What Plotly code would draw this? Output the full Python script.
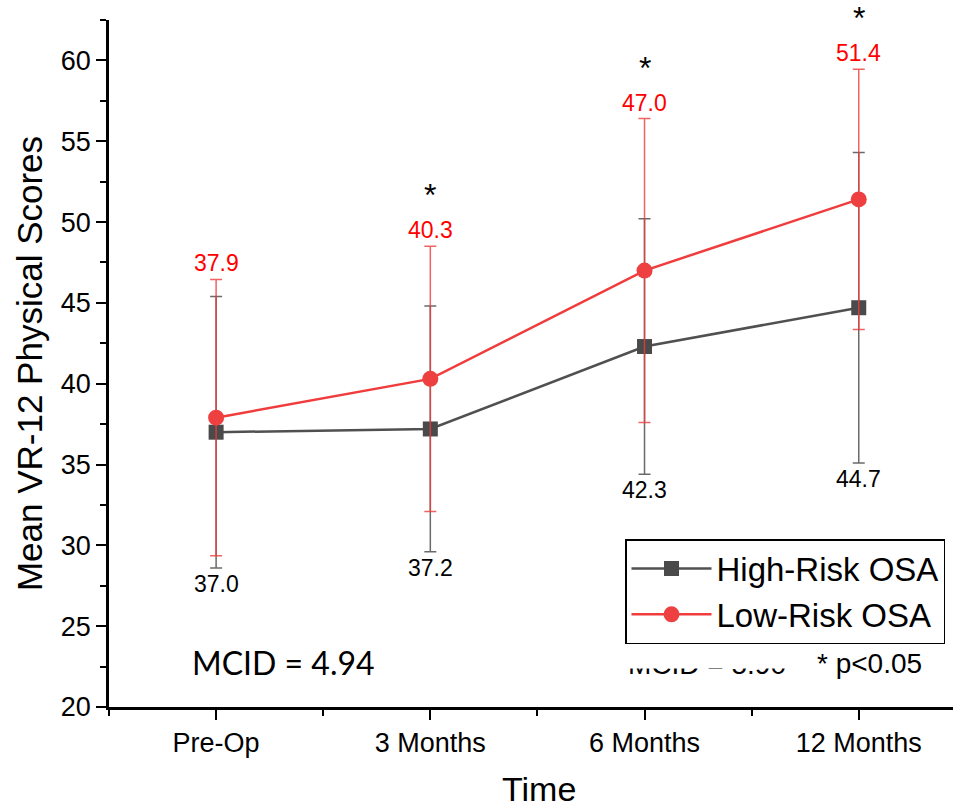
import plotly.graph_objects as go

categories = ["Pre-Op", "3 Months", "6 Months", "12 Months"]
high_mean = [37.0, 37.2, 42.3, 44.7]
high_sd = [8.4, 7.6, 7.9, 9.6]
low_mean = [37.9, 40.3, 47.0, 51.4]
low_sd = [8.55, 8.2, 9.4, 8.05]
significant = [False, True, True, True]
mcid_text = "MCID = 4.94"
mcid_hidden_text = "MCID = 5.90"
p_text = "* p<0.05"

x = list(range(len(categories)))

GRAY = "#505050"
RED = "#f03c3c"
ARIAL = "Liberation Sans, Arial, sans-serif"
NARROW = "Liberation Sans Narrow, Arial Narrow, Liberation Sans, sans-serif"

fig = go.Figure()
fig.add_trace(go.Scatter(
    x=x, y=high_mean, mode="lines+markers", name="High-Risk OSA",
    line=dict(color=GRAY, width=2.5),
    marker=dict(symbol="square", size=15, color="#4a4a4a"),
    error_y=dict(type="data", array=high_sd, visible=True,
                 color="rgba(80,80,80,0.85)", thickness=1.5, width=6),
))
fig.add_trace(go.Scatter(
    x=x, y=low_mean, mode="lines+markers", name="Low-Risk OSA",
    line=dict(color=RED, width=2.5),
    marker=dict(symbol="circle", size=16, color="#ee4040"),
    error_y=dict(type="data", array=low_sd, visible=True,
                 color="rgba(235,60,60,0.8)", thickness=1.5, width=6),
))

annotations = []
for i in x:
    annotations.append(dict(
        x=i, y=low_mean[i] + low_sd[i], xref="x", yref="y",
        text=f"{low_mean[i]:.1f}", showarrow=False, yanchor="bottom",
        yshift=1, font=dict(family=ARIAL, size=23, color="#ff0000")))
    annotations.append(dict(
        x=i, y=high_mean[i] - high_sd[i], xref="x", yref="y",
        text=f"{high_mean[i]:.1f}", showarrow=False, yanchor="top",
        yshift=-1, font=dict(family=ARIAL, size=23, color="#000000")))
    if significant[i]:
        annotations.append(dict(
            x=i, y=low_mean[i] + low_sd[i], xref="x", yref="y",
            text="*", showarrow=False, yanchor="bottom",
            yshift=31, font=dict(family=ARIAL, size=32, color="#000000")))

annotations.append(dict(
    x=190, y=809 - 662, xref="paper", yref="paper", text=mcid_text,
    showarrow=False, xanchor="left", yanchor="middle",
    font=dict(family="Lato, Open Sans, sans-serif", size=32, color="#000000")))
annotations.append(dict(
    x=924, y=809 - 663, xref="paper", yref="paper", text=p_text,
    showarrow=False, xanchor="right", yanchor="middle",
    font=dict(family=ARIAL, size=28, color="#000000")))
annotations.append(dict(
    x=707, y=809 - 664, xref="paper", yref="paper", text=mcid_hidden_text,
    showarrow=False, xanchor="center", yanchor="middle",
    font=dict(family=ARIAL, size=28, color="#000000")))
annotations.append(dict(
    x=707, y=809 - 657, xref="paper", yref="paper", text=" ",
    showarrow=False, xanchor="center", yanchor="middle",
    width=200, height=20, bgcolor="#ffffff",
    font=dict(family=ARIAL, size=10, color="#ffffff")))
annotations.append(dict(
    x=539, y=809 - 789, xref="paper", yref="paper", text="Time",
    showarrow=False, xanchor="center", yanchor="middle",
    font=dict(family=NARROW, size=34, color="#000000")))

# convert paper pixel coords for the free texts
W, H = 953, 809
ML, MR, MT, MB = 109, 0, 20, 102
pw, ph = W - ML - MR, H - MT - MB
for a in annotations:
    if a.get("xref") == "paper":
        a["x"] = (a["x"] - ML) / pw
        a["y"] = ((a["y"]) - MB) / ph

fig.update_layout(
    width=W, height=H,
    margin=dict(l=ML, r=MR, t=MT, b=MB),
    plot_bgcolor="white", paper_bgcolor="white",
    showlegend=True,
    legend=dict(
        x=(945 - ML) / pw, y=(H - 539 - MB) / ph, xanchor="right", yanchor="top",
        bordercolor="#000000", borderwidth=1.5, bgcolor="white",
        font=dict(family=ARIAL, size=33, color="#000000"),
        itemwidth=80, tracegroupgap=0,
    ),
    annotations=annotations,
    xaxis=dict(
        range=[-0.5, 3.44], tickvals=x, ticktext=categories,
        showgrid=False, zeroline=False,
        showline=True, linecolor="#000000", linewidth=2.5,
        ticks="outside", ticklen=10, tickwidth=2, tickcolor="#000000",
        minor=dict(tickvals=[-0.5, 0.5, 1.5, 2.5], ticks="outside",
                   ticklen=6, tickwidth=2, tickcolor="#000000"),
        tickfont=dict(family=NARROW, size=27, color="#000000"),
    ),
    yaxis=dict(
        range=[20, 62.5], tickvals=[20, 25, 30, 35, 40, 45, 50, 55, 60],
        showgrid=False, zeroline=False,
        showline=True, linecolor="#000000", linewidth=2.5,
        ticks="outside", ticklen=10, tickwidth=2, tickcolor="#000000",
        minor=dict(dtick=2.5, ticks="outside", ticklen=6, tickwidth=2,
                   tickcolor="#000000"),
        tickfont=dict(family=ARIAL, size=27, color="#000000"),
        title=dict(text="Mean VR-12 Physical Scores",
                   font=dict(family=NARROW, size=35, color="#000000"),
                   standoff=8),
    ),
)

fig.write_html("out.html")
